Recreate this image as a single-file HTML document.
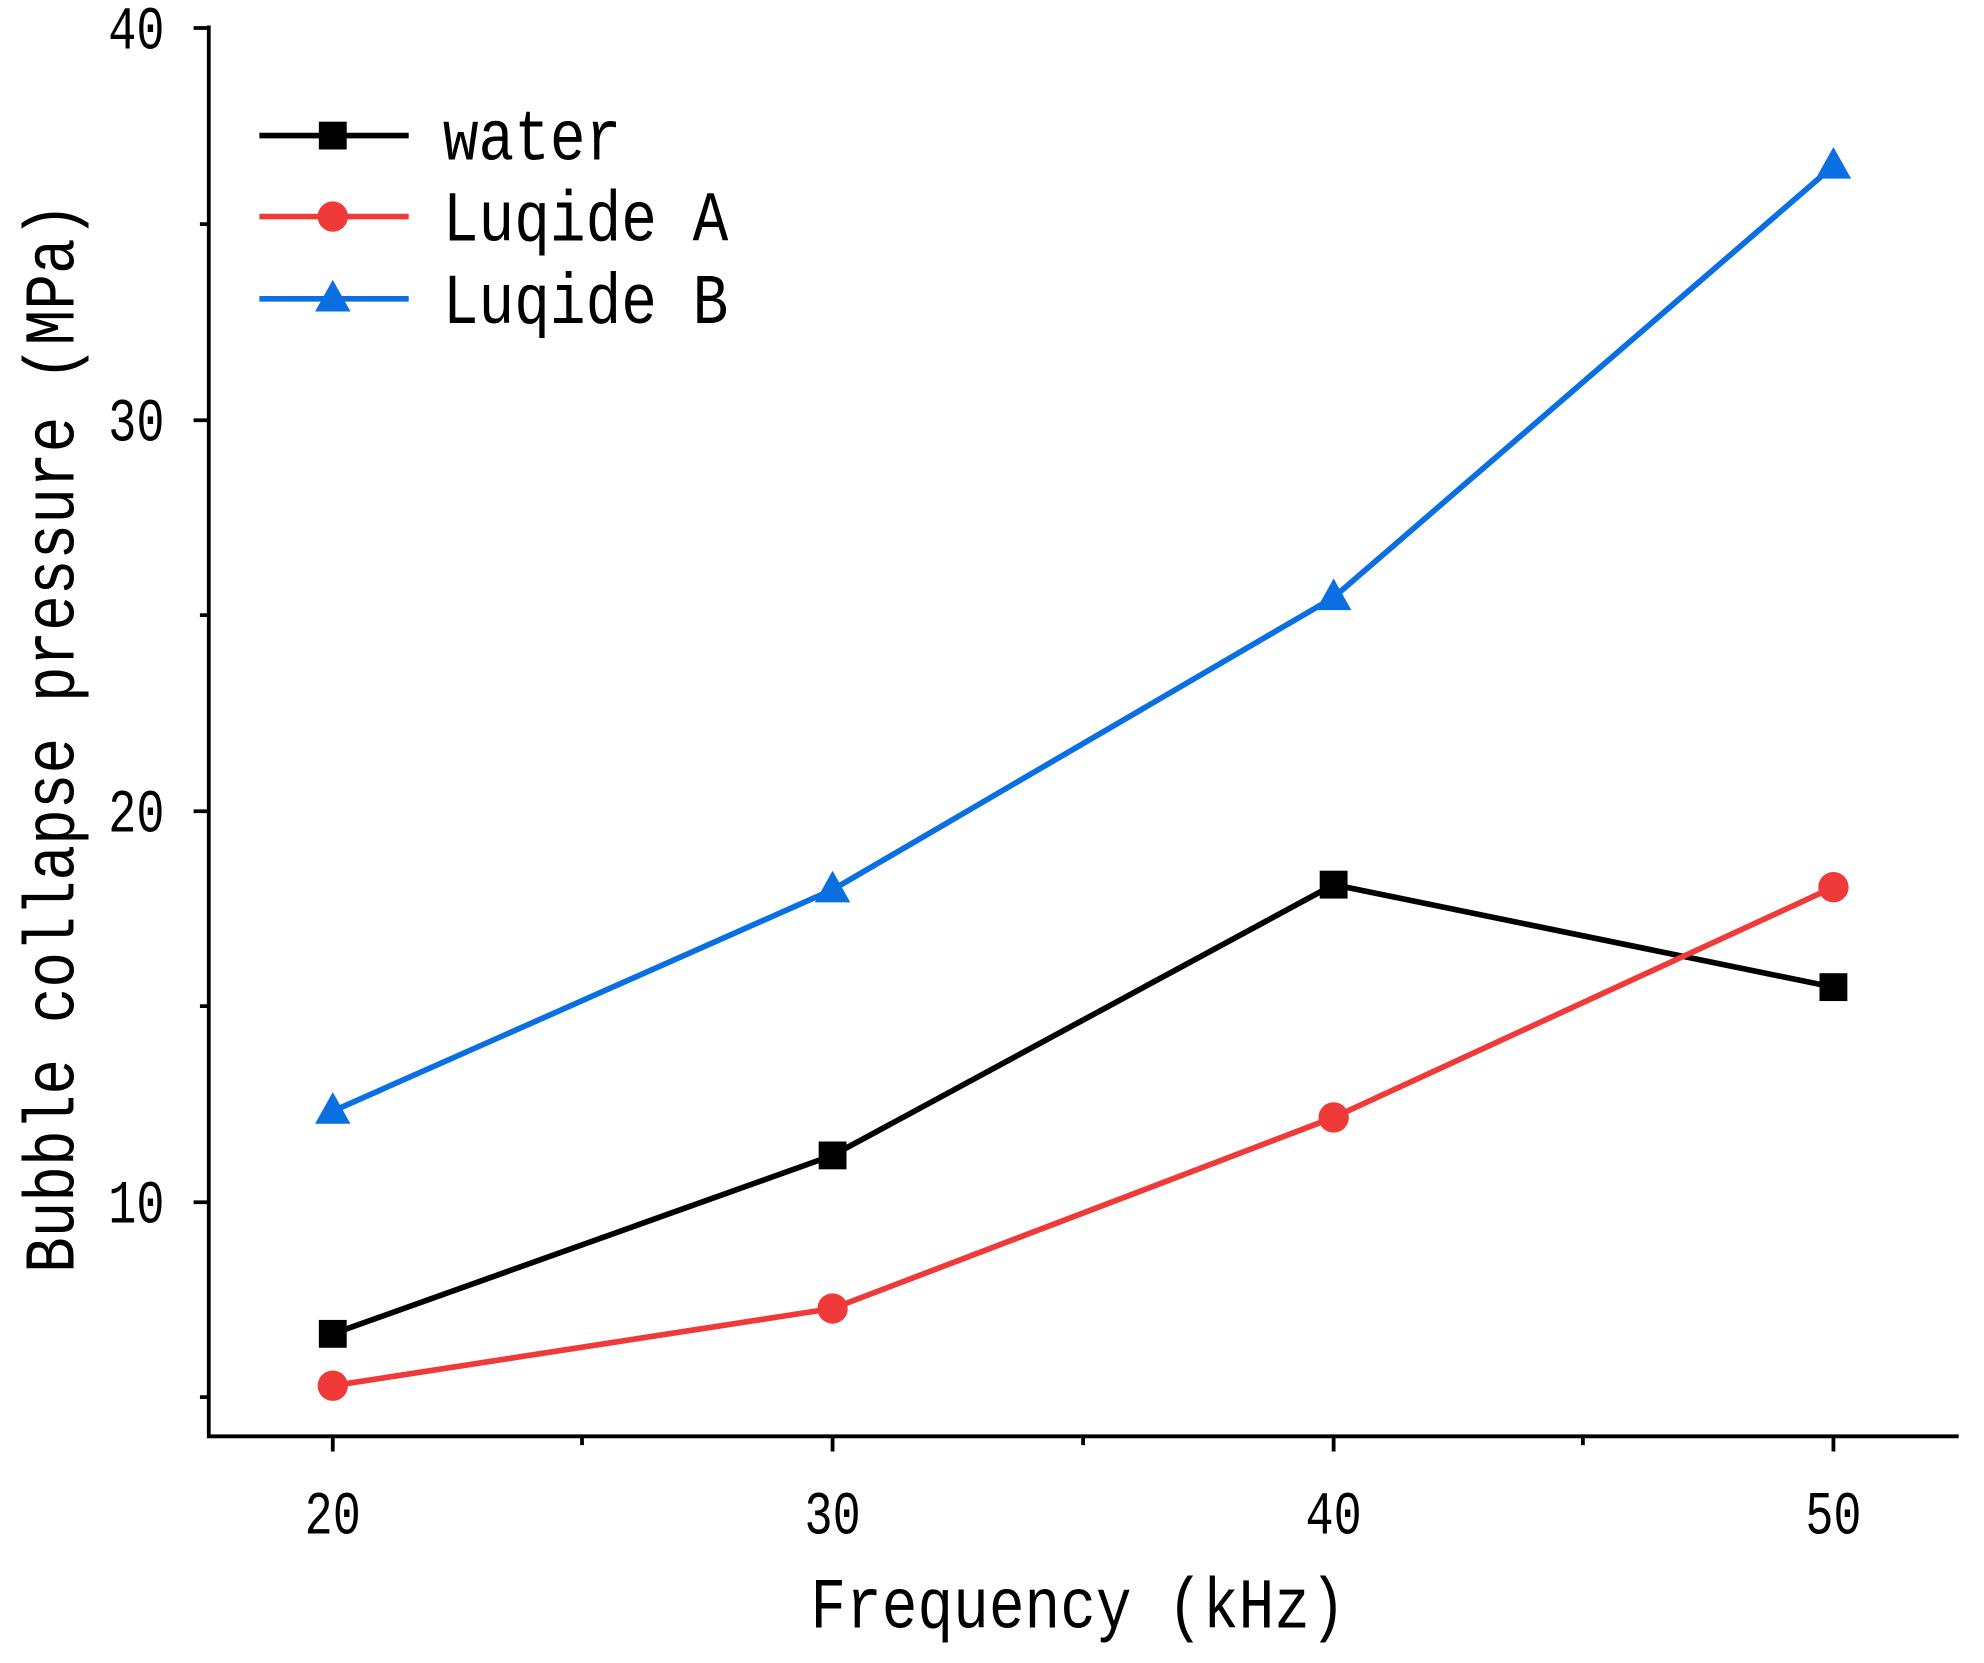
<!DOCTYPE html>
<html><head><meta charset="utf-8"><style>html,body{margin:0;padding:0;background:#fff}svg{display:block}</style></head>
<body>
<svg width="1984" height="1663" viewBox="0 0 1568 1314" xmlns="http://www.w3.org/2000/svg" font-family="'Liberation Mono', monospace" fill="#000">
<defs>
<rect id="sq" x="-11" y="-11" width="22" height="22" fill="#000"/>
<circle id="ci" r="12" fill="#f03a3a"/>
<polygon id="tr" points="0,-15 14,10 -14,10" fill="#0a6fe0"/>
</defs>
<g stroke="#000" stroke-width="3" fill="none">
<path d="M165,20 V1135 H1548"/>
<path d="M165,22 h-12 M165,332 h-12 M165,641 h-12 M165,950 h-12 M165,177 h-7 M165,486 h-7 M165,795 h-7 M165,1104 h-7"/>
<path d="M263,1135 v12 M658,1135 v12 M1054,1135 v12 M1449,1135 v12 M460,1135 v7 M856,1135 v7 M1251,1135 v7"/>
</g>
<g font-size="37" text-anchor="end">
<text transform="translate(130,38) scale(1,1.3)">40</text><text transform="translate(130,348) scale(1,1.3)">30</text><text transform="translate(130,657) scale(1,1.3)">20</text><text transform="translate(130,966) scale(1,1.3)">10</text>
</g>
<g font-size="37" text-anchor="middle">
<text transform="translate(263,1212) scale(1,1.3)">20</text><text transform="translate(658,1212) scale(1,1.3)">30</text><text transform="translate(1054,1212) scale(1,1.3)">40</text><text transform="translate(1449,1212) scale(1,1.3)">50</text>
</g>
<text transform="translate(852,1286) scale(1,1.2)" font-size="47" text-anchor="middle">Frequency (kHz)</text>
<text transform="translate(58,583) rotate(-90) scale(1,1.2)" font-size="47" text-anchor="middle">Bubble collapse pressure (MPa)</text>
<g fill="none" stroke-width="4.5">
<polyline stroke="#0a6fe0" points="263,878 658,703 1054,472 1449,131"/>
<polyline stroke="#000" points="263,1054 658,913 1054,699 1449,780"/>
<polyline stroke="#f03a3a" points="263,1095 658,1034 1054,883 1449,701"/>
<line stroke="#000" x1="205" y1="107" x2="323" y2="107"/>
<line stroke="#f03a3a" x1="205" y1="171" x2="323" y2="171"/>
<line stroke="#0a6fe0" x1="205" y1="236" x2="323" y2="236"/>
</g>
<use href="#tr" x="263" y="878"/><use href="#tr" x="658" y="703"/><use href="#tr" x="1054" y="472"/><use href="#tr" x="1449" y="131"/>
<use href="#sq" x="263" y="1054"/><use href="#sq" x="658" y="913"/><use href="#sq" x="1054" y="699"/><use href="#sq" x="1449" y="780"/>
<use href="#ci" x="263" y="1095"/><use href="#ci" x="658" y="1034"/><use href="#ci" x="1054" y="883"/><use href="#ci" x="1449" y="701"/>
<use href="#sq" x="263" y="107"/><use href="#ci" x="263" y="171"/><use href="#tr" x="263" y="236"/>
<g font-size="47">
<text transform="translate(350,126) scale(1,1.2)">water</text><text transform="translate(350,190) scale(1,1.2)">Luqide A</text><text transform="translate(350,255) scale(1,1.2)">Luqide B</text>
</g>
</svg>
</body></html>
